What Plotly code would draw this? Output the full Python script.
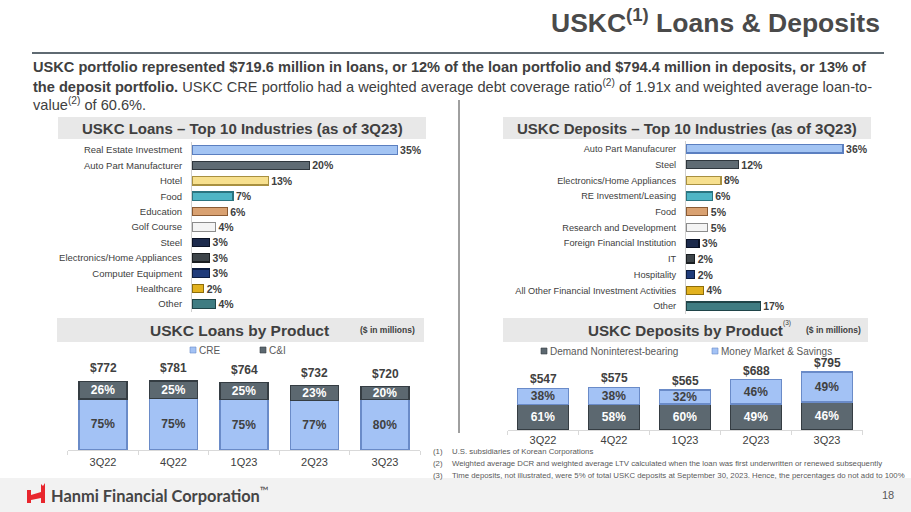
import plotly.graph_objects as go

# ---------------- data ----------------
loan_industries = ["Real Estate Investment", "Auto Part Manufacturer", "Hotel", "Food", "Education",
                   "Golf Course", "Steel", "Electronics/Home Appliances", "Computer Equipment",
                   "Healthcare", "Other"]
loan_industry_pct = [35, 20, 13, 7, 6, 4, 3, 3, 3, 2, 4]

deposit_industries = ["Auto Part Manufacurer", "Steel", "Electronics/Home Appliances",
                      "RE Investment/Leasing", "Food", "Research and Development",
                      "Foreign Financial Institution", "IT", "Hospitality",
                      "All Other Financial Investment Activities", "Other"]
deposit_industry_pct = [36, 12, 8, 6, 5, 5, 3, 2, 2, 4, 17]

quarters = ["3Q22", "4Q22", "1Q23", "2Q23", "3Q23"]
loan_totals = [772, 781, 764, 732, 720]
loan_cre_pct = [75, 75, 75, 77, 80]
loan_ci_pct = [26, 25, 25, 23, 20]

deposit_totals = [547, 575, 565, 688, 795]
deposit_demand_pct = [61, 58, 60, 49, 46]
deposit_mm_pct = [38, 38, 32, 46, 49]

# ---------------- style ----------------
W, H = 911, 512
def X(px): return px / W
def Y(py): return 1 - py / H

ARIAL = "Liberation Sans, Arial, sans-serif"
DARK = "#404040"

ind_colors = ["#a3c4f3", "#5f6b73", "#f7e08e", "#4fb5c5", "#d9a171", "#f4f4f4",
              "#1c2a4c", "#3d4449", "#1f3b7a", "#e2b21f", "#3f7c82"]
ind_lines = ["#5b7fc0", "#2f373d", "#a89040", "#2a7480", "#8a5a33", "#8c8c8c",
             "#0b1225", "#1a1e21", "#0d1d40", "#8d6d0a", "#1f4448"]
BLUE, BLUE_LINE = "#a3c2f5", "#6a8bc8"
SLATE, SLATE_LINE = "#5c6870", "#353d43"

fig = go.Figure()

# ---- Loans top 10 ----
fig.add_trace(go.Bar(
    x=loan_industry_pct, y=loan_industries, orientation="h",
    marker=dict(color=ind_colors, line=dict(color=ind_lines, width=1.2)),
    width=0.55, text=[f"<b>{v}%</b>" for v in loan_industry_pct],
    textposition="outside", textfont=dict(size=10.5, color=DARK, family=ARIAL),
    cliponaxis=False, xaxis="x", yaxis="y", showlegend=False, hoverinfo="skip"))

# ---- Deposits top 10 ----
fig.add_trace(go.Bar(
    x=deposit_industry_pct, y=deposit_industries, orientation="h",
    marker=dict(color=ind_colors, line=dict(color=ind_lines, width=1.2)),
    width=0.52, text=[f"<b>{v}%</b>" for v in deposit_industry_pct],
    textposition="outside", textfont=dict(size=10.5, color=DARK, family=ARIAL),
    cliponaxis=False, xaxis="x2", yaxis="y2", showlegend=False, hoverinfo="skip"))

# ---- Loans by product ----
cre_vals = [t * p / 100 for t, p in zip(loan_totals, loan_cre_pct)]
ci_vals = [t * p / 100 for t, p in zip(loan_totals, loan_ci_pct)]
fig.add_trace(go.Bar(
    x=quarters, y=cre_vals, name="CRE", width=0.68,
    marker=dict(color=BLUE, line=dict(color=BLUE_LINE, width=1.5)),
    text=[f"<b>{p}%</b>" for p in loan_cre_pct], textposition="inside",
    insidetextanchor="middle", textfont=dict(size=12, color=DARK, family=ARIAL),
    xaxis="x3", yaxis="y3", showlegend=False, hoverinfo="skip"))
fig.add_trace(go.Bar(
    x=quarters, y=ci_vals, name="C&I", width=0.68,
    marker=dict(color=SLATE, line=dict(color=SLATE_LINE, width=1.5)),
    text=[f"<b>{p}%</b>" for p in loan_ci_pct], textposition="inside",
    insidetextanchor="middle", textfont=dict(size=12, color="white", family=ARIAL),
    xaxis="x3", yaxis="y3", showlegend=False, hoverinfo="skip"))

# ---- Deposits by product ----
dem_vals = [t * p / 100 for t, p in zip(deposit_totals, deposit_demand_pct)]
mm_vals = [t * p / 100 for t, p in zip(deposit_totals, deposit_mm_pct)]
fig.add_trace(go.Bar(
    x=quarters, y=dem_vals, name="Demand Noninterest-bearing", width=0.72,
    marker=dict(color=SLATE, line=dict(color=SLATE_LINE, width=1.5)),
    text=[f"<b>{p}%</b>" for p in deposit_demand_pct], textposition="inside",
    insidetextanchor="middle", textfont=dict(size=12, color="white", family=ARIAL),
    xaxis="x4", yaxis="y4", showlegend=False, hoverinfo="skip"))
fig.add_trace(go.Bar(
    x=quarters, y=mm_vals, name="Money Market & Savings", width=0.72,
    marker=dict(color=BLUE, line=dict(color=BLUE_LINE, width=1.5)),
    text=[f"<b>{p}%</b>" for p in deposit_mm_pct], textposition="inside",
    insidetextanchor="middle", textfont=dict(size=12, color=DARK, family=ARIAL),
    xaxis="x4", yaxis="y4", showlegend=False, hoverinfo="skip"))

hidden = dict(visible=False, fixedrange=True)
cat_tick = dict(size=9.5, color=DARK, family=ARIAL)
fig.update_layout(
    width=W, height=H, autosize=False,
    margin=dict(l=0, r=0, t=0, b=0),
    paper_bgcolor="white", plot_bgcolor="rgba(0,0,0,0)",
    barmode="stack", bargap=0.3,
    uniformtext=dict(minsize=10, mode="show"),
    font=dict(family=ARIAL, color=DARK),
    xaxis=dict(domain=[X(192), X(427)], range=[0, 40.1], **hidden, anchor="y"),
    yaxis=dict(domain=[Y(311.7), Y(142.3)], type="category", autorange="reversed",
               showline=True, linecolor="#d0d0d0", linewidth=1, ticks="",
               ticklabelstandoff=7, tickfont=cat_tick, showgrid=False, anchor="x",
               fixedrange=True),
    xaxis2=dict(domain=[X(686), X(871)], range=[0, 42.4], **hidden, anchor="y2"),
    yaxis2=dict(domain=[Y(313.9), Y(141.1)], type="category", autorange="reversed",
                showline=True, linecolor="#d0d0d0", linewidth=1, ticks="",
                ticklabelstandoff=7, tickfont=dict(size=9.2, color=DARK, family=ARIAL),
                showgrid=False, anchor="x2", fixedrange=True),
    xaxis3=dict(domain=[X(67.75), X(420.25)], type="category", showline=True,
                linecolor="#d9d9d9", ticks="outside", tickson="boundaries", ticklen=4,
                tickcolor="#d9d9d9", tickfont=dict(size=11, color=DARK, family=ARIAL),
                ticklabelstandoff=2, anchor="y3", fixedrange=True),
    yaxis3=dict(domain=[Y(450), Y(370)], range=[0, 908], **hidden, anchor="x3"),
    xaxis4=dict(domain=[X(507.5), X(862.5)], type="category", showline=True,
                linecolor="#d9d9d9", ticks="outside", tickson="boundaries", ticklen=4,
                tickcolor="#d9d9d9", tickfont=dict(size=11, color=DARK, family=ARIAL),
                ticklabelstandoff=0, anchor="y4", fixedrange=True),
    yaxis4=dict(domain=[Y(430), Y(360)], range=[0, 909], **hidden, anchor="x4"),
)

shapes = []
annos = []
def rect(x0, y0, x1, y1, color, layer="below", lc=None):
    shapes.append(dict(type="rect", xref="paper", yref="paper", x0=X(x0), x1=X(x1),
                       y0=Y(y1), y1=Y(y0), fillcolor=color,
                       line=dict(width=0.6 if lc else 0, color=lc or color), layer=layer))
def line(x0, y0, x1, y1, color, w):
    shapes.append(dict(type="line", xref="paper", yref="paper", x0=X(x0), x1=X(x1),
                       y0=Y(y0), y1=Y(y1), line=dict(color=color, width=w)))
def text(x, y, s, size, color=DARK, family=ARIAL, xanchor="left", yanchor="middle"):
    annos.append(dict(x=X(x), y=Y(y), xref="paper", yref="paper", text=s, showarrow=False,
                      xanchor=xanchor, yanchor=yanchor, align=xanchor if xanchor != "center" else "center",
                      font=dict(size=size, color=color, family=family)))

# title + rule
text(882, 21, "<b>USKC<sup>(1)</sup> Loans &amp; Deposits</b>", 26.5, "#4a4a4a", ARIAL, "right")
line(32, 53, 884, 53, "#5f6a72", 2.2)

# body text
BODY = 14.6
text(31, 67, "<b>USKC portfolio represented $719.6 million in loans, or 12% of the loan portfolio and $794.4 million in deposits, or 13% of</b>", BODY)
text(31, 86, "<b>the deposit portfolio.</b> USKC CRE portfolio had a weighted average debt coverage ratio<sup>(2)</sup> of 1.91x and weighted average loan-to-", BODY)
text(31, 104, "value<sup>(2)</sup> of 60.6%.", BODY)

# divider
line(459, 100, 459, 433, "#404040", 1)

# section headers
rect(58, 117, 426, 139, "#e8e8e8")
text(242, 128, "<b>USKC Loans – Top 10 Industries (as of 3Q23)</b>", 15, DARK, ARIAL, "center")
rect(503, 117, 871, 139, "#e8e8e8")
text(687, 128, "<b>USKC Deposits – Top 10 Industries (as of 3Q23)</b>", 15, DARK, ARIAL, "center")
rect(57, 318, 424, 342, "#e8e8e8")
text(239, 330, "<b>USKC Loans by Product</b>", 15.5, DARK, ARIAL, "center")
text(387, 330, "<b>($ in millions)</b>", 8.5, DARK, ARIAL, "center")
rect(503, 318, 868, 342, "#e8e8e8")
text(685, 330, "<b>USKC Deposits by Product</b>", 15.2, DARK, ARIAL, "center")
text(781, 323, "(3)", 6.5, DARK, ARIAL, "left")
text(833, 330, "<b>($ in millions)</b>", 8.5, DARK, ARIAL, "center")

# legends (small square swatches + labels)
legend_items = [(193, 350, BLUE, BLUE_LINE, "CRE"), (263, 350, SLATE, SLATE_LINE, "C&amp;I"),
                (544, 351, SLATE, SLATE_LINE, "Demand Noninterest-bearing"),
                (715, 351, BLUE, BLUE_LINE, "Money Market &amp; Savings")]
for lx, ly, c, lc, lab in legend_items:
    rect(lx - 3, ly - 3, lx + 3, ly + 3, c, "above", lc)
    text(lx + 4, ly, lab, 10, "#595959", ARIAL)

# totals above stacked bars
for q, t, a, b in zip(quarters, loan_totals, cre_vals, ci_vals):
    annos.append(dict(x=q, y=a + b, xref="x3", yref="y3", text=f"<b>${t}</b>", showarrow=False,
                      yanchor="middle", yshift=13, font=dict(size=12, color=DARK, family=ARIAL)))
for q, t, a, b in zip(quarters, deposit_totals, dem_vals, mm_vals):
    annos.append(dict(x=q, y=a + b, xref="x4", yref="y4", text=f"<b>${t}</b>", showarrow=False,
                      yanchor="middle", yshift=9, font=dict(size=12, color=DARK, family=ARIAL)))

# footnotes
notes = ["U.S. subsidiaries of Korean Corporations",
         "Weighted average DCR and weighted average LTV calculated when the loan was first underwritten or renewed subsequently",
         "Time deposits, not illustrated, were 5% of total USKC deposits at September 30, 2023. Hence, the percentages do not add to 100%"]
for i, n in enumerate(notes):
    text(431, 451 + 12 * i, f"({i+1})", 7.8, "#595959", ARIAL)
    text(450, 451 + 12 * i, n, 7.8, "#595959", ARIAL)

# footer
rect(0, 478, 911, 512, "#f2f2f2")
pts = [(27, 490), (31, 490), (31, 495), (41, 492), (41, 484), (43, 486), (45, 483), (45, 503),
       (41, 503), (41, 498), (31, 500), (31, 503), (27, 503)]
path = "M" + " L".join(f"{X(a):.5f},{Y(b):.5f}" for a, b in pts) + " Z"
shapes.append(dict(type="path", xref="paper", yref="paper", path=path,
                   fillcolor="#e8262d", line=dict(width=0)))
text(49, 494, "<b>Hanmi Financial Corporation</b><sup>™</sup>", 16.4, "#454545", "Lato, Liberation Sans, sans-serif")
text(896, 495, "18", 11, "#595959", ARIAL, "right")

fig.update_layout(shapes=shapes, annotations=annos)
fig.write_html("out.html", config={"displayModeBar": False},
               post_script="document.body.style.margin='0px';document.body.style.overflow='hidden';")
